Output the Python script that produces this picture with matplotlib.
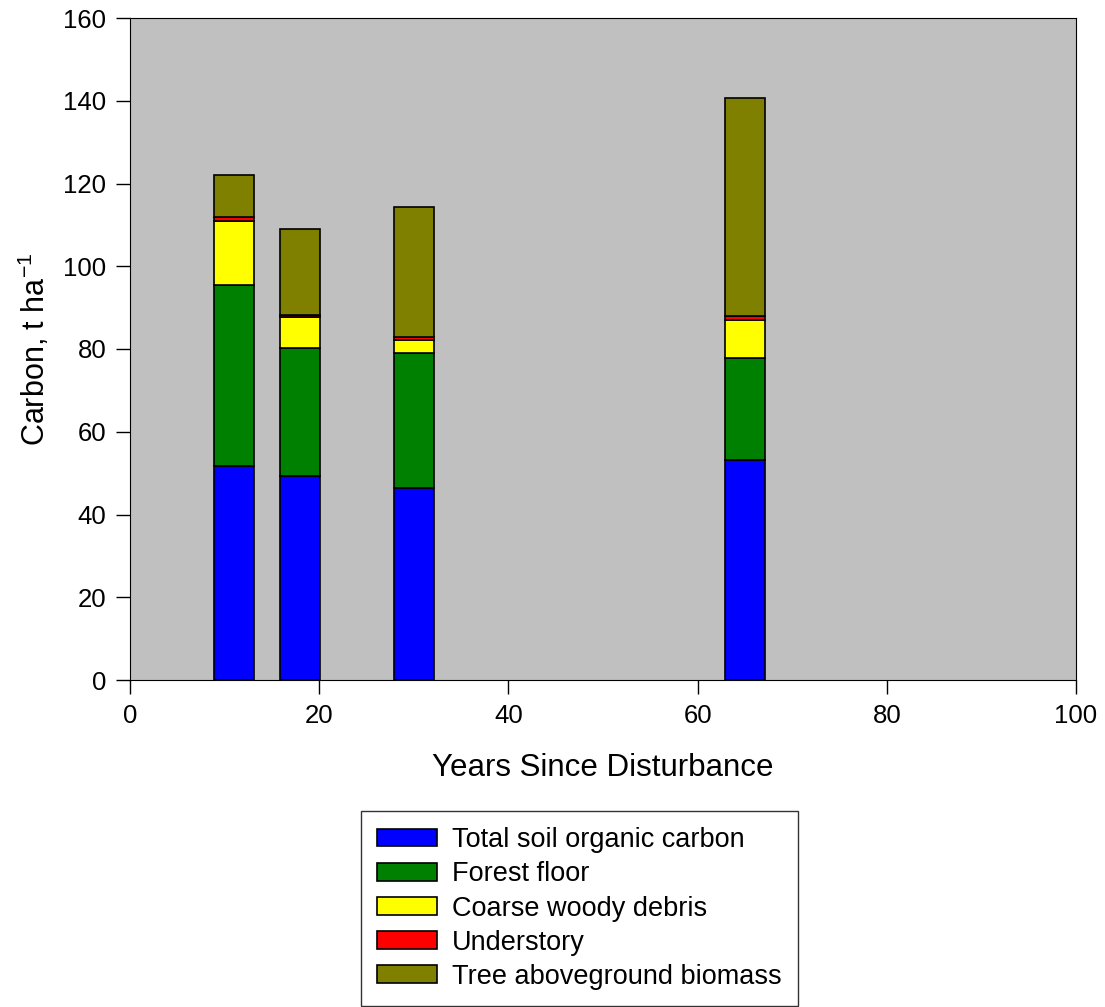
import matplotlib.pyplot as plt
import numpy as np

plt.rcParams['font.family'] = ['Liberation Sans', 'DejaVu Sans']

years = np.array([11, 18, 30, 65])
soil_carbon = np.array([51.7, 49.3, 46.3, 53.2])
forest_floor = np.array([43.7, 30.9, 32.7, 24.6])
coarse_woody = np.array([15.5, 7.6, 3.1, 9.2])
understory = np.array([0.9, 0.5, 0.9, 0.9])
tree_biomass = np.array([10.3, 20.7, 31.3, 52.8])

series = [
    ("Total soil organic carbon", soil_carbon, "#0000ff"),
    ("Forest floor", forest_floor, "#008000"),
    ("Coarse woody debris", coarse_woody, "#ffff00"),
    ("Understory", understory, "#ff0000"),
    ("Tree aboveground biomass", tree_biomass, "#808000"),
]

fig = plt.figure(figsize=(11.05, 10.07), dpi=100)
ax = fig.add_axes([130 / 1105, 1 - 680 / 1007, 946 / 1105, 662 / 1007])
ax.set_facecolor("#c0c0c0")

bottom = np.zeros(len(years))
for name, vals, color in series:
    ax.bar(years, vals, width=4.2, bottom=bottom, color=color,
           edgecolor="black", linewidth=1.2, label=name)
    bottom += vals

ax.set_xlim(0, 100)
ax.set_ylim(0, 160)
ax.set_xticks(np.arange(0, 101, 20))
ax.set_yticks(np.arange(0, 161, 20))
ax.tick_params(direction="out", length=10, width=1, labelsize=18.5, pad=7)
ax.tick_params(top=False, right=False)
ax.set_xlabel("Years Since Disturbance", fontsize=22.5, labelpad=18)
ax.set_ylabel("Carbon, t ha$^{\\mathregular{-1}}$", fontsize=22, labelpad=8)

fig.legend(loc="upper left", bbox_to_anchor=(361 / 1105, 1 - 811 / 1007),
           fontsize=19.5, frameon=True, fancybox=False, edgecolor="black",
           handlelength=2.2, handleheight=0.62, handletextpad=0.55,
           labelspacing=0.3, borderpad=0.6, borderaxespad=0)

fig.savefig("out.png", dpi=100)
